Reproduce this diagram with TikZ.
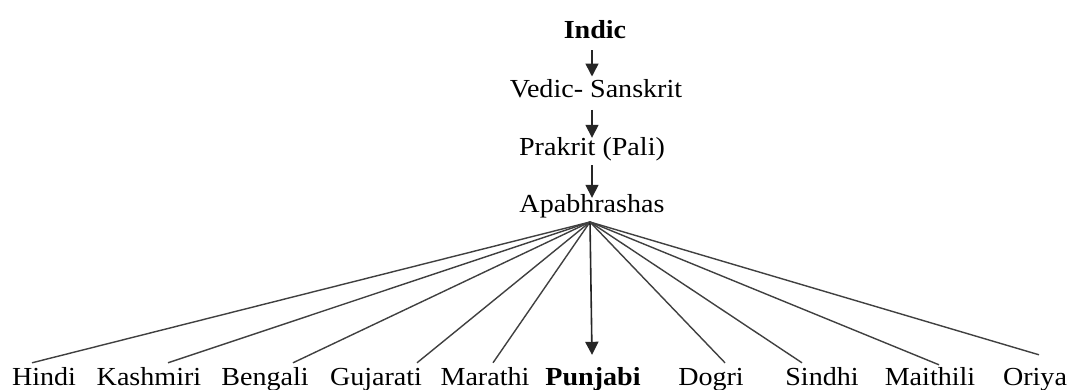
\documentclass[tikz,border=0pt]{standalone}
\usepackage{fontspec}
\setmainfont{Liberation Serif}[FakeStretch=1.08]
\usetikzlibrary{arrows.meta}
\begin{document}
\begin{tikzpicture}[x=1pt,y=-1pt,
  lbl/.style={anchor=base,inner sep=0pt,text height=18pt,text depth=5pt,font=\fontsize{26}{30}\selectfont},
  bl/.style={lbl,font=\fontsize{26}{30}\selectfont\bfseries},
  arr/.style={draw=black!85,line width=1.6pt,-{Triangle[width=13pt,length=13pt]}},
  fan/.style={draw=black!75,line width=1.4pt}]
\useasboundingbox (0,0) rectangle (1069,389);
\fill[white] (0,0) rectangle (1069,389);
% chain
\node[bl]  (indic)   at (595,38)   {Indic};
\node[lbl] (vedic)   at (596,97.7) {Vedic- Sanskrit};
\node[lbl] (prakrit) at (592,155)  {Prakrit (Pali)};
\node[lbl] (apab)    at (592,212)  {Apabhrashas};
\coordinate (spine) at (592,0);
\coordinate (apex) at (590,222);
\draw[arr,shorten <=7pt,shorten >=3pt] (indic.south -| spine) -- (vedic.north -| spine);
\draw[arr,shorten <=7pt,shorten >=-1pt] (vedic.south -| spine) -- (prakrit.north -| spine);
\draw[arr,shorten <=5pt,shorten >=-4pt] (prakrit.south -| spine) -- (apab.north -| spine);
% languages
\node[lbl] (hindi)    at (44,385)   {Hindi};
\node[lbl] (kashmiri) at (149,385)  {Kashmiri};
\node[lbl] (bengali)  at (265,385)  {Bengali};
\node[lbl] (gujarati) at (376,385)  {Gujarati};
\node[lbl] (marathi)  at (485,385)  {Marathi};
\node[bl]  (punjabi)  at (593,385)  {Punjabi};
\node[lbl] (dogri)    at (711,385)  {Dogri};
\node[lbl] (sindhi)   at (822,385)  {Sindhi};
\node[lbl] (maithili) at (930,385)  {Maithili};
\node[lbl] (oriya)    at (1035,385) {Oriya};
% fan
\draw[fan] (apex) -- ([xshift=-12pt,yshift=4pt]hindi.north);
\draw[fan] (apex) -- ([xshift=19pt,yshift=4pt]kashmiri.north);
\draw[fan] (apex) -- ([xshift=28pt,yshift=4pt]bengali.north);
\draw[fan] (apex) -- ([xshift=41pt,yshift=4pt]gujarati.north);
\draw[fan] (apex) -- ([xshift=8pt,yshift=4pt]marathi.north);
\draw[arr] (apex) -- ([xshift=-1pt,yshift=12pt]punjabi.north);
\draw[fan] (apex) -- ([xshift=14pt,yshift=4pt]dogri.north);
\draw[fan] (apex) -- ([xshift=-20pt,yshift=4pt]sindhi.north);
\draw[fan] (apex) -- ([xshift=9pt,yshift=2pt]maithili.north);
\draw[fan] (apex) -- ([xshift=4pt,yshift=12pt]oriya.north);
\end{tikzpicture}
\end{document}
